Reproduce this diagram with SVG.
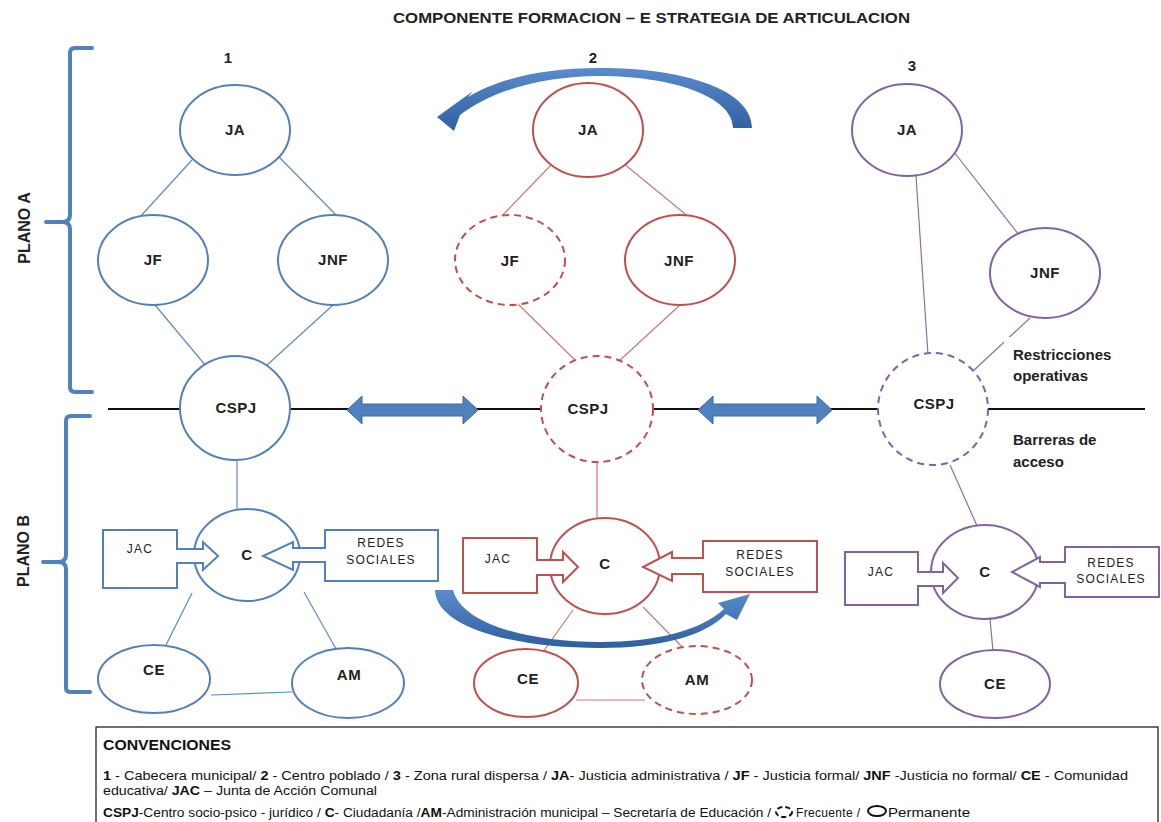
<svg xmlns="http://www.w3.org/2000/svg" width="1161" height="822" viewBox="0 0 1161 822">
  <defs>
    <style>
      .t{font-family:"Liberation Sans",Arial,sans-serif;fill:#222}
      .n{font-family:"Liberation Sans",Arial,sans-serif;font-weight:bold;font-size:15px;fill:#222;text-anchor:middle;letter-spacing:0.5px}
      .s{font-family:"Liberation Sans",Arial,sans-serif;font-size:12px;fill:#222;text-anchor:middle;letter-spacing:1.2px}
      .nar{font-family:"Liberation Sans Narrow","Liberation Sans",Arial,sans-serif;fill:#111}
      .blue{fill:#fff;stroke:#5380bb;stroke-width:2}
      .red{fill:#fff;stroke:#c0504d;stroke-width:2}
      .pur{fill:#fff;stroke:#8064a2;stroke-width:2}
      .dash{stroke-dasharray:7 5}
      .lb{stroke:#5f8ac2;stroke-width:1.2;fill:none}
      .lr{stroke:#c97a77;stroke-width:1.2;fill:none}
      .lp{stroke:#8a70ab;stroke-width:1.2;fill:none}
      .brace{fill:none;stroke:#4f81bd;stroke-width:4;stroke-linejoin:round;stroke-linecap:round}
      .dbl{fill:#4f81bd;stroke:#3c6aa6;stroke-width:1}
    </style>
    <linearGradient id="curve" x1="0" y1="0" x2="0" y2="1">
      <stop offset="0" stop-color="#5a8bcc"/>
      <stop offset="1" stop-color="#2f5f9e"/>
    </linearGradient>
  </defs>

  <!-- title and column numbers -->
  <text class="t" x="393" y="23" font-size="15" font-weight="bold" textLength="517" lengthAdjust="spacingAndGlyphs">COMPONENTE FORMACION – E STRATEGIA DE ARTICULACION</text>
  <text class="t" x="228" y="63" font-size="15" font-weight="bold" text-anchor="middle">1</text>
  <text class="t" x="593" y="63" font-size="15" font-weight="bold" text-anchor="middle">2</text>
  <text class="t" x="912" y="71" font-size="15" font-weight="bold" text-anchor="middle">3</text>

  <!-- plane braces -->
  <g id="plano-a">
    <path class="brace" d="M92,48 L75,48 Q70,48 70,53 L70,215 Q70,222 62,222 L46,222 M62,222 Q70,222 70,229 L70,387 Q70,392 75,392 L92,392"/>
    <text class="t" font-size="16" font-weight="bold" text-anchor="middle" transform="translate(30,228) rotate(-90)">PLANO A</text>
  </g>
  <g id="plano-b">
    <path class="brace" d="M90,416 L71,416 Q66,416 66,421 L66,555 Q66,562 58,562 L43,562 M58,562 Q66,562 66,569 L66,688 Q66,692 71,692 L90,692"/>
    <text class="t" font-size="16" font-weight="bold" text-anchor="middle" transform="translate(29,551) rotate(-90)">PLANO B</text>
  </g>

  <!-- connectors -->
  <g id="connectors">
    <line x1="108" y1="409" x2="1145" y2="409" stroke="#111" stroke-width="2"/>
    <!-- column 1 -->
    <line class="lb" x1="192" y1="160" x2="139" y2="218"/>
    <line class="lb" x1="279" y1="157" x2="339" y2="218"/>
    <line class="lb" x1="155" y1="305" x2="206" y2="366"/>
    <line class="lb" x1="333" y1="305" x2="266" y2="366"/>
    <line class="lb" x1="237" y1="460" x2="237" y2="512"/>
    <line class="lb" x1="192" y1="593" x2="166" y2="645"/>
    <line class="lb" x1="304" y1="592" x2="336" y2="649"/>
    <line class="lb" x1="211" y1="695" x2="292" y2="692"/>
    <!-- column 2 -->
    <line class="lr" x1="551" y1="165" x2="498" y2="220"/>
    <line class="lr" x1="623" y1="163" x2="690" y2="218"/>
    <line class="lr" x1="518" y1="304" x2="577" y2="362"/>
    <line class="lr" x1="680" y1="305" x2="618" y2="362"/>
    <line class="lr" x1="597" y1="462" x2="597" y2="520"/>
    <line class="lr" x1="573" y1="610" x2="538" y2="659"/>
    <line class="lr" x1="643" y1="607" x2="690" y2="655"/>
    <line class="lr" x1="576" y1="700" x2="645" y2="700"/>
    <!-- column 3 -->
    <line class="lp" x1="916" y1="176" x2="928" y2="355"/>
    <line class="lp" x1="954" y1="152" x2="1019" y2="235"/>
    <line class="lp" x1="972" y1="372" x2="1030" y2="318"/>
    <line class="lp" x1="950" y1="465" x2="978" y2="528"/>
    <line class="lp" x1="990" y1="619" x2="993" y2="651"/>
  </g>

  <!-- column 1 : cabecera municipal -->
  <g id="c1-ja"><ellipse class="blue" cx="235" cy="130" rx="55" ry="45"/><text class="n" x="235" y="135">JA</text></g>
  <g id="c1-jf"><ellipse class="blue" cx="153" cy="260" rx="55" ry="45"/><text class="n" x="153" y="265">JF</text></g>
  <g id="c1-jnf"><ellipse class="blue" cx="333" cy="260" rx="55" ry="45"/><text class="n" x="333" y="265">JNF</text></g>
  <g id="c1-cspj"><ellipse class="blue" cx="235" cy="408" rx="55" ry="52"/><text class="n" x="236" y="413">CSPJ</text></g>
  <g id="c1-c"><ellipse class="blue" cx="247" cy="555" rx="53" ry="46"/><text class="n" x="247" y="560" font-weight="normal">C</text></g>
  <g id="c1-ce"><ellipse class="blue" cx="154" cy="679" rx="56" ry="34"/><text class="n" x="154" y="675">CE</text></g>
  <g id="c1-am"><ellipse class="blue" cx="348" cy="683" rx="56" ry="35"/><text class="n" x="349" y="680">AM</text></g>
  <g id="c1-jac">
    <polygon class="blue" points="103,530 177,530 177,549 203,549 203,542 218,556 203,570 203,563 177,563 177,588 103,588"/>
    <text class="s" x="140" y="553">JAC</text>
  </g>
  <g id="c1-redes">
    <polygon class="blue" points="438,530 325,530 325,548 293,548 293,542 263,556 293,570 293,562 325,562 325,581 438,581"/>
    <text class="s" x="381" y="547">REDES</text>
    <text class="s" x="381" y="564">SOCIALES</text>
  </g>

  <!-- column 2 : centro poblado -->
  <g id="c2-ja"><ellipse class="red" cx="588" cy="130" rx="55" ry="47"/><text class="n" x="588" y="135">JA</text></g>
  <g id="c2-jf"><ellipse class="red dash" cx="510" cy="260" rx="55" ry="45"/><text class="n" x="510" y="266">JF</text></g>
  <g id="c2-jnf"><ellipse class="red" cx="680" cy="260" rx="55" ry="45"/><text class="n" x="679" y="266">JNF</text></g>
  <g id="c2-cspj"><ellipse class="red dash" cx="597" cy="409" rx="56" ry="53"/><text class="n" x="588" y="414" font-weight="normal">CSPJ</text></g>
  <g id="c2-c"><ellipse class="red" cx="605" cy="566" rx="55" ry="48"/><text class="n" x="605" y="569" font-weight="normal">C</text></g>
  <g id="c2-ce"><ellipse class="red" cx="526" cy="683" rx="52" ry="34"/><text class="n" x="528" y="684">CE</text></g>
  <g id="c2-am"><ellipse class="red dash" cx="697" cy="680" rx="55" ry="34"/><text class="n" x="697" y="685">AM</text></g>
  <g id="c2-jac">
    <polygon class="red" points="463,538 537,538 537,560 563,560 563,552 578,567 563,582 563,575 537,575 537,593 463,593"/>
    <text class="s" x="498" y="563">JAC</text>
  </g>
  <g id="c2-redes">
    <polygon class="red" points="817,541 703,541 703,558 672,558 672,552 643,567 672,581 672,574 703,574 703,592 817,592"/>
    <text class="s" x="760" y="559">REDES</text>
    <text class="s" x="760" y="576">SOCIALES</text>
  </g>

  <!-- column 3 : zona rural dispersa -->
  <g id="c3-ja"><ellipse class="pur" cx="907" cy="130" rx="55" ry="46"/><text class="n" x="907" y="135">JA</text></g>
  <g id="c3-jnf"><ellipse class="pur" cx="1045" cy="273" rx="55" ry="45"/><text class="n" x="1045" y="278">JNF</text></g>
  <g id="c3-cspj"><ellipse class="pur dash" cx="933" cy="409" rx="55" ry="56"/><text class="n" x="934" y="409" font-weight="normal">CSPJ</text></g>
  <g id="c3-c"><ellipse class="pur" cx="985" cy="572" rx="54" ry="47"/><text class="n" x="985" y="577" font-weight="normal">C</text></g>
  <g id="c3-ce"><ellipse class="pur" cx="995" cy="684" rx="55" ry="34"/><text class="n" x="995" y="689">CE</text></g>
  <g id="c3-jac">
    <polygon class="pur" points="845,552 918,552 918,572 943,572 943,563 958,578 943,593 943,586 918,586 918,605 845,605"/>
    <text class="s" x="881" y="576">JAC</text>
  </g>
  <g id="c3-redes">
    <polygon class="pur" points="1159,547 1065,547 1065,562 1040,562 1040,557 1012,572 1040,587 1040,583 1065,583 1065,597 1159,597"/>
    <text class="s" x="1111" y="567">REDES</text>
    <text class="s" x="1111" y="583">SOCIALES</text>
  </g>

  <!-- side notes on the access axis -->
  <g id="restricciones">
    <rect x="1004" y="337" width="130" height="52" fill="#fff"/>
    <text class="t" font-size="15" font-weight="bold" x="1013" y="360">Restricciones</text>
    <text class="t" font-size="15" font-weight="bold" x="1013" y="381">operativas</text>
  </g>
  <g id="barreras">
    <text class="t" font-size="15" font-weight="bold" x="1013" y="445">Barreras de</text>
    <text class="t" font-size="15" font-weight="bold" x="1013" y="467">acceso</text>
  </g>

  <!-- articulation flows -->
  <g id="flows">
    <polygon class="dbl" points="347,410 362,396 362,404 463,404 463,396 478,410 463,424 463,416 362,416 362,424"/>
    <polygon class="dbl" points="698,410 713,396 713,404 817,404 817,396 832,410 817,424 817,416 713,416 713,424"/>
    <path fill="url(#curve)" d="M752,128 C752,90 685,68 600,68 C540,68 496,80 468,97 L473,91 L437,117 L454,131 L460,115 C490,92 540,76 600,76 C670,76 733,96 733,128 Z"/>
    <path fill="url(#curve)" d="M435,590 C436,628 515,648 600,648 C660,648 705,636 726,614 L737,620 L750,594 L718,603 L724,609 C700,631 655,642 600,642 C528,642 462,624 453,590 Z"/>
  </g>

  <!-- legend -->
  <g id="convenciones">
    <rect x="96" y="727" width="1062" height="100" fill="#fff" stroke="#111" stroke-width="1.2"/>
    <text class="nar" x="103" y="750" font-size="14" font-weight="bold" textLength="128" lengthAdjust="spacingAndGlyphs">CONVENCIONES</text>
    <text class="nar" x="103" y="780" font-size="12" textLength="1025" lengthAdjust="spacingAndGlyphs"><tspan font-weight="bold">1</tspan> - Cabecera municipal/  <tspan font-weight="bold">2</tspan> - Centro poblado / <tspan font-weight="bold">3</tspan> - Zona rural dispersa / <tspan font-weight="bold">JA</tspan>- Justicia administrativa /  <tspan font-weight="bold">JF</tspan> - Justicia formal/  <tspan font-weight="bold">JNF</tspan> -Justicia no formal/ <tspan font-weight="bold">CE</tspan> - Comunidad</text>
    <text class="nar" x="103" y="795" font-size="12" textLength="274" lengthAdjust="spacingAndGlyphs">educativa/ <tspan font-weight="bold">JAC</tspan> – Junta de Acción Comunal</text>
    <text class="nar" x="103" y="817" font-size="12" textLength="668" lengthAdjust="spacingAndGlyphs"><tspan font-weight="bold">CSPJ</tspan>-Centro socio-psico - jurídico / <tspan font-weight="bold">C</tspan>-  Ciudadanía /<tspan font-weight="bold">AM</tspan>-Administración municipal – Secretaría de Educación /</text>
    <ellipse cx="784" cy="812" rx="8" ry="5" fill="none" stroke="#111" stroke-width="2" stroke-dasharray="5 3"/>
    <text class="nar" x="796" y="817" font-size="12" textLength="64" lengthAdjust="spacing">Frecuente /</text>
    <ellipse cx="877" cy="811" rx="9" ry="5" fill="none" stroke="#111" stroke-width="2"/>
    <text class="nar" x="888" y="817" font-size="12" textLength="82" lengthAdjust="spacingAndGlyphs">Permanente</text>
  </g>
</svg>
